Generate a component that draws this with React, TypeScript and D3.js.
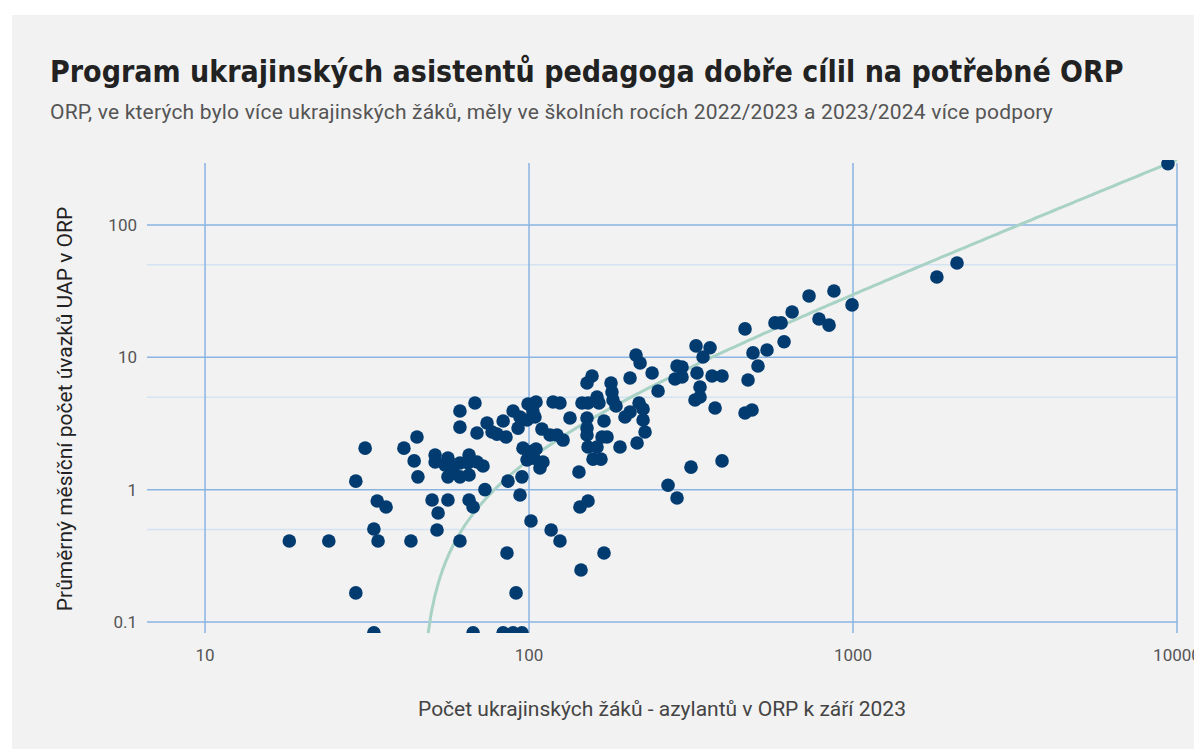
import React from "react";
import * as d3 from "d3";

// ORP: number of Ukrainian refugee pupils (Sept 2023) vs. avg monthly UAP FTE
const students = [
  31.2, 41.1, 45.1, 44.2, 45.4, 29.2, 34.0, 36.2, 50.2, 33.2,
  18.2, 24.1, 34.2, 43.2, 29.2, 33.2, 68.1, 61.2, 61.2, 69.1,
  74.2, 76.9, 83.2, 79.6, 84.9, 89.3, 93.8, 92.5, 99.3, 102.8,
  98.6, 51.3, 51.3, 56.2, 55.0, 58.3, 61.2, 65.3, 64.8, 69.1,
  72.1, 56.2, 61.2, 65.3, 73.1, 86.1, 95.1, 93.8, 95.8, 100.7,
  105.1, 98.6, 103.5, 110.4, 108.1, 56.2, 65.3, 52.4, 67.2, 101.4,
  52.0, 61.2, 85.5, 91.2, 117.0, 124.6, 67.2, 83.2, 89.3, 95.1,
  213.9, 220.2, 239.8, 156.5, 151.0, 205.0, 179.1, 180.3, 181.6, 162.1,
  164.4, 145.7, 152.1, 118.6, 124.6, 105.1, 104.3, 185.6, 133.8, 151.0,
  170.4, 197.8, 205.0, 218.6, 224.9, 224.9, 109.6, 151.0, 151.0, 168.0,
  174.1, 116.1, 122.0, 127.4, 152.1, 162.1, 190.9, 215.5, 228.1, 157.6,
  166.7, 142.6, 152.1, 143.6, 170.4, 144.7, 464.2, 327.7, 362.0, 344.4,
  491.3, 542.7, 509.0, 286.3, 296.6, 282.2, 296.6, 330.0, 367.2, 394.2,
  337.1, 325.3, 337.1, 250.2, 474.2, 375.2, 464.2, 487.8, 316.2, 394.2,
  268.6, 286.3, 2094, 1815, 873.3, 731.6, 648.6, 574.4, 599.8, 785.3,
  843.3, 993.2, 612.6, 9377,
];

const assistants = [
  2.06, 2.06, 2.5, 1.65, 1.25, 1.16, 0.821, 0.739, 0.835, 0.504,
  0.409, 0.409, 0.409, 0.409, 0.166, 0.083, 4.52, 3.93, 2.97, 2.68,
  3.19, 2.73, 3.3, 2.63, 2.5, 3.93, 3.54, 2.92, 4.44, 3.93,
  3.36, 1.83, 1.62, 1.73, 1.54, 1.48, 1.59, 1.83, 1.59, 1.62,
  1.51, 1.25, 1.25, 1.29, 1.0, 1.16, 1.25, 0.911, 2.06, 1.93,
  2.03, 1.68, 1.73, 1.62, 1.46, 0.835, 0.835, 0.666, 0.739, 0.58,
  0.496, 0.409, 0.332, 0.166, 0.496, 0.409, 0.083, 0.083, 0.083, 0.083,
  10.4, 9.06, 7.61, 7.22, 6.4, 6.98, 6.4, 5.47, 4.76, 5.01,
  4.52, 4.52, 4.52, 4.6, 4.52, 4.6, 3.54, 4.29, 3.48, 3.48,
  3.3, 3.54, 3.86, 4.52, 4.07, 3.36, 2.87, 2.92, 2.59, 2.5,
  2.5, 2.59, 2.59, 2.37, 2.1, 2.1, 2.1, 2.25, 2.73, 1.7,
  1.7, 1.36, 0.821, 0.739, 0.332, 0.247, 16.4, 12.2, 11.8, 10.06,
  10.8, 11.35, 8.6, 8.6, 8.45, 6.86, 7.1, 7.61, 7.22, 7.22,
  5.97, 4.76, 5.01, 5.57, 6.74, 4.14, 3.8, 4.0, 1.48, 1.65,
  1.08, 0.865, 51.6, 40.5, 31.7, 29.1, 22.0, 18.2, 18.2, 19.5,
  17.5, 24.9, 13.1, 290,
];

const xTicks = [10, 100, 1000, 10000];
const yTicks = [0.1, 1, 10, 100];
const yMinorTicks = [0.5, 5, 50];
const xTickLabels = ["10", "100", "1000", "10000"];
const yTickLabels = ["0.1", "1", "10", "100"];

// fitted linear trend  y = slope * x + intercept
const trendSlope = 0.0312;
const trendIntercept = -1.44;

const title = "Program ukrajinských asistentů pedagoga dobře cílil na potřebné ORP";
const subtitle =
  "ORP, ve kterých bylo více ukrajinských žáků, měly ve školních rocích 2022/2023 a 2023/2024 více podpory";
const xTitle = "Počet ukrajinských žáků - azylantů v ORP k září 2023";
const yTitle = "Průměrný měsíční počet úvazků UAP v ORP";

const App = () => {
  const width = 1194;
  const height = 741;
  const left = 147;
  const right = 1177;
  const top = 163;
  const bottom = 633;

  const x = d3.scaleLog().domain([6.62, 10000]).range([left, right]);
  const y = d3.scaleLog().domain([0.0826, 294]).range([bottom, top]);

  const majorColor = "#8ab5e3";
  const minorColor = "#d3e3f4";
  const font = "Roboto, 'Open Sans', sans-serif";

  const points = students.map((s, i) => ({ s, a: assistants[i] }));

  // trend line drawn over a log-spaced set of x positions
  const xStart = (y.domain()[0] * 0.9 - trendIntercept) / trendSlope;
  const trendXs = d3.range(0, 201).map((i) => xStart * Math.pow(10000 / xStart, i / 200));
  const trendLine = d3
    .line<number>()
    .x((d) => x(d))
    .y((d) => y(Math.max(trendSlope * d + trendIntercept, 0.05)));

  return (
    <svg width={width} height={height} style={{ display: "block" }}>
      <defs>
        <clipPath id="plot-clip">
          <rect x={left - 10} y={160} width={right - left + 20} height={bottom - 160} />
        </clipPath>
      </defs>
      <g transform="translate(-8,-8)">
        <rect x={12} y={15} width={1190} height={734} fill="#f2f2f2" />

        <text
          x={50}
          y={82}
          fontFamily="'DejaVu Sans Condensed', 'DejaVu Sans', sans-serif"
          fontWeight="bold"
          fontSize={30}
          fill="#222"
        >
          {title}
        </text>
        <text x={50} y={119} fontFamily={font} fontSize={21} letterSpacing={0.2} fill="#555">
          {subtitle}
        </text>

        {/* minor horizontal grid */}
        {yMinorTicks.map((t) => (
          <line key={"m" + t} x1={left} x2={right} y1={y(t)} y2={y(t)} stroke={minorColor} strokeWidth={1.5} />
        ))}
        {/* major grid */}
        {yTicks.map((t) => (
          <line key={"h" + t} x1={left} x2={right} y1={y(t)} y2={y(t)} stroke={majorColor} strokeWidth={1.5} />
        ))}
        {xTicks.map((t) => (
          <line key={"v" + t} x1={x(t)} x2={x(t)} y1={top} y2={bottom} stroke={majorColor} strokeWidth={1.5} />
        ))}

        {yTicks.map((t, i) => (
          <text
            key={"yl" + t}
            x={137}
            y={y(t)}
            dy="0.35em"
            textAnchor="end"
            fontFamily={font}
            fontSize={17}
            fill="#555"
          >
            {yTickLabels[i]}
          </text>
        ))}
        {xTicks.map((t, i) => (
          <text
            key={"xl" + t}
            x={x(t)}
            y={661}
            textAnchor="middle"
            fontFamily={font}
            fontSize={17}
            fill="#555"
          >
            {xTickLabels[i]}
          </text>
        ))}

        <g clipPath="url(#plot-clip)">
          <path d={trendLine(trendXs) || ""} fill="none" stroke="#a9d2c6" strokeWidth={3} />
          {points.map((p, i) => (
            <circle key={i} cx={x(p.s)} cy={y(p.a)} r={6.8} fill="#023b6f" />
          ))}
        </g>

        <text x={662} y={716} textAnchor="middle" fontFamily={font} fontSize={21} fill="#444">
          {xTitle}
        </text>
        <text
          transform="translate(72,409) rotate(-90)"
          textAnchor="middle"
          fontFamily={font}
          fontSize={21}
          fill="#222"
        >
          {yTitle}
        </text>
      </g>
    </svg>
  );
};

export default App;
